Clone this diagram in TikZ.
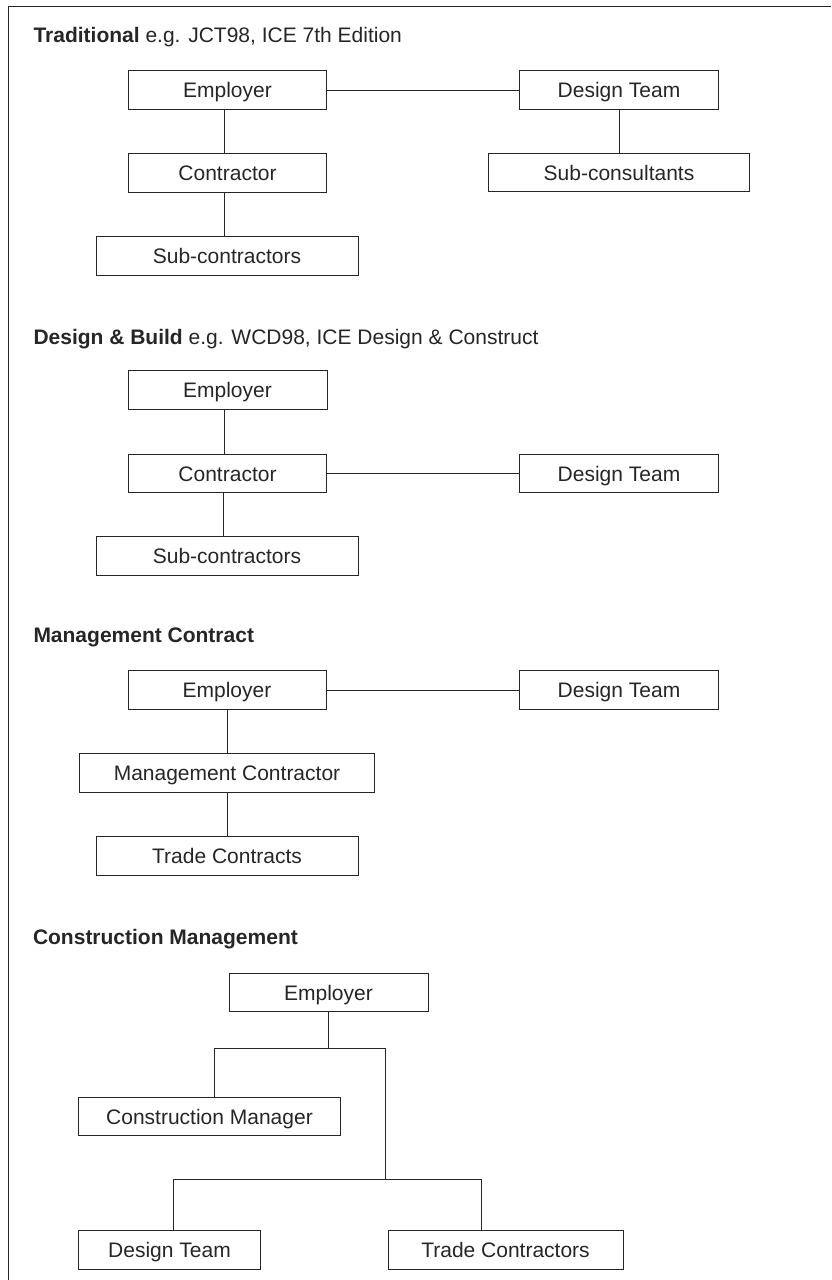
\documentclass[tikz,border=0pt]{standalone}
\usepackage{fontspec}
\setmainfont{Liberation Sans}
\begin{document}
\begin{tikzpicture}[x=1pt, y=-1pt, line width=1pt, color=black!85,
    box/.style={draw, rectangle, inner sep=0pt, minimum height=38.5pt,
      text height=15pt, text depth=0pt, font=\fontsize{21}{25}\selectfont},
    title/.style={anchor=west, inner sep=0pt, text height=15pt,
      text depth=0pt, font=\fontsize{21}{25}\selectfont}]
  \useasboundingbox (0,0) rectangle (831,1280);
  \draw (831,6) -- (8.5,6) -- (8.5,1280);

  % Traditional
  \node [title] (trad) at (33,35) {\textbf{Traditional} e.g. JCT98, ICE 7th Edition};
  \node [box, minimum width=198pt] (emp1) at (227.5,90) {Employer};
  \node [box, minimum width=199pt] (dt1) at (619,90) {Design Team};
  \node [box, minimum width=198pt] (con1) at (227.5,173) {Contractor};
  \node [box, minimum width=261pt] (subcons) at (619,172.5) {Sub-consultants};
  \node [box, minimum width=262pt] (subcon1) at (227,256) {Sub-contractors};
  \draw (emp1) -- (dt1);
  \draw ([xshift=-3.5pt]emp1.south) -- ([xshift=-3.5pt]con1.north);
  \draw (dt1) -- (subcons);
  \draw ([xshift=-3.5pt]con1.south) -- ([xshift=-3pt]subcon1.north);

  % Design & Build
  \node [title] (db) at (33,336.5) {\textbf{Design \& Build} e.g. WCD98, ICE Design \& Construct};
  \node [box, minimum width=199pt] (emp2) at (227.5,390) {Employer};
  \node [box, minimum width=198pt] (con2) at (227.5,473.5) {Contractor};
  \node [box, minimum width=199pt] (dt2) at (619,473.5) {Design Team};
  \node [box, minimum width=262pt] (subcon2) at (227,556) {Sub-contractors};
  \draw ([xshift=-3pt]emp2.south) -- ([xshift=-3pt]con2.north);
  \draw (con2) -- (dt2);
  \draw ([xshift=-4pt]con2.south) -- ([xshift=-3.5pt]subcon2.north);

  % Management Contract
  \node [title] (mgmt) at (33,635) {\textbf{Management Contract}};
  \node [box, minimum width=198pt] (emp3) at (227,690) {Employer};
  \node [box, minimum width=199pt] (dt3) at (619,690) {Design Team};
  \node [box, minimum width=295pt] (mc) at (227,773) {Management Contractor};
  \node [box, minimum width=262pt] (tc) at (227,856) {Trade Contracts};
  \draw (emp3) -- (dt3);
  \draw (emp3) -- (mc);
  \draw (mc) -- (tc);

  % Construction Management
  \node [title] (cmgmt) at (32.5,936.5) {\textbf{Construction Management}};
  \node [box, minimum width=199pt] (emp4) at (328.5,992.5) {Employer};
  \node [box, minimum width=262pt] (cm) at (209.5,1116.5) {Construction Manager};
  \node [box, minimum width=182pt] (dt4) at (169.5,1250) {Design Team};
  \node [box, minimum width=235pt] (trc) at (505.5,1250) {Trade Contractors};
  \coordinate (cmturn) at (214.6,1048);
  \coordinate (lowturn) at (385.8,1048);
  \coordinate (lowfork) at (385.8,1179);
  \coordinate (dtturn) at (173.8,1179);
  \coordinate (trturn) at (481.2,1179);
  \draw (emp4) -- (emp4 |- cmturn);
  \draw (cm.north -| cmturn) -- (cmturn) -- (lowturn) -- (lowfork);
  \draw (dt4.north -| dtturn) -- (dtturn) -- (trturn) -- (trc.north -| trturn);
\end{tikzpicture}
\end{document}
